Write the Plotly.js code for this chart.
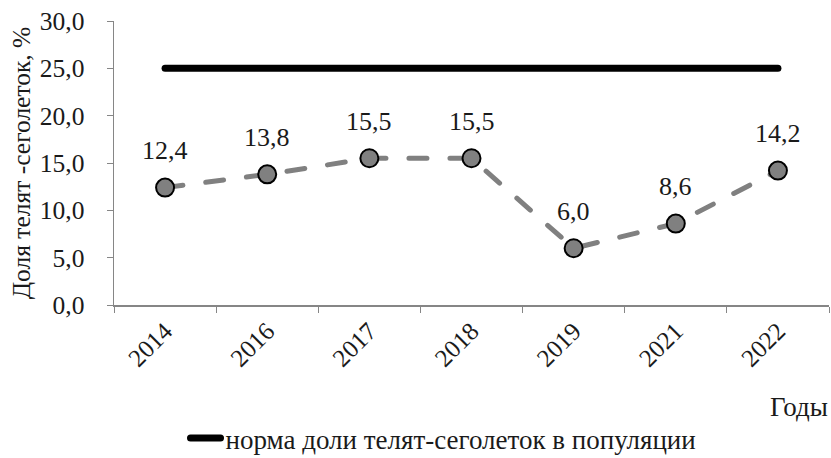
<!DOCTYPE html>
<html><head><meta charset="utf-8">
<script src="https://cdn.plot.ly/plotly-3.0.1.min.js"></script>
<style>html,body{margin:0;padding:0;background:#fff}
#chart .js-line{stroke-linecap:round}</style>
</head><body>
<div id="chart" style="width:831px;height:458px"></div>
<script>
const years = ['2014','2016','2017','2018','2019','2021','2022'];
const share = [12.4, 13.8, 15.5, 15.5, 6.0, 8.6, 14.2];
const norm = [25, 25, 25, 25, 25, 25, 25];
const normName = 'норма доли телят-сеголеток в популяции';
const yTitle = 'Доля телят -сеголеток, %';
const xTitle = 'Годы';

const font = 'Liberation Serif';
const ink = '#1a1a1a';
const traces = [
  {x: years, y: share, type: 'scatter', mode: 'lines+markers', showlegend: false,
   line: {color: '#808080', width: 5, dash: '18px,23px'},
   marker: {size: 18, color: '#808080', line: {color: '#000', width: 2}}, cliponaxis: false},
  {x: years, y: norm, type: 'scatter', mode: 'lines', name: normName,
   line: {color: '#000', width: 7}}
];
// value labels above the points (category index on the category axis)
const labels = years.map((yr, i) => ({
  x: i, y: share[i], xref: 'x', yref: 'y', text: share[i].toFixed(1).replace('.', ','),
  showarrow: false, yshift: 37, font: {family: font, size: 26, color: ink}
}));
labels.push({text: xTitle, xref: 'paper', yref: 'paper', x: 1.001, y: -0.36, xanchor: 'right', yanchor: 'middle',
             showarrow: false, font: {family: font, size: 27, color: ink}});
const layout = {
  width: 831, height: 458,
  margin: {l: 114, r: 2, t: 21, b: 153, autoexpand: false},
  paper_bgcolor: '#fff', plot_bgcolor: '#fff',
  separators: ',.',
  font: {family: font, size: 25, color: ink},
  xaxis: {type: 'category', tickangle: -45, showline: true, linecolor: '#868686', linewidth: 1.5,
          ticks: 'outside', ticklen: 6, tickcolor: '#868686', tickson: 'boundaries', automargin: false,
          range: [-0.5, years.length - 0.5],
          showgrid: false, zeroline: false, tickfont: {family: font, size: 25, color: ink}},
  yaxis: {range: [0, 30], dtick: 5, tickformat: '.1f', showline: true, linecolor: '#868686', linewidth: 1.5,
          ticks: 'outside', ticklen: 6, tickcolor: '#868686', showgrid: false, zeroline: false,
          ticklabelstandoff: 17, automargin: false,
          tickfont: {family: font, size: 25.5, color: ink},
          title: {text: yTitle, font: {family: font, size: 25.5, color: ink}, standoff: 2}},
  showlegend: true,
  legend: {orientation: 'h', x: 0.1, xanchor: 'left', y: -0.47, yanchor: 'middle',
           font: {family: font, size: 27, color: ink}},
  annotations: labels
};
Plotly.newPlot('chart', traces, layout, {displayModeBar: false, staticPlot: true});
</script>
</body></html>
